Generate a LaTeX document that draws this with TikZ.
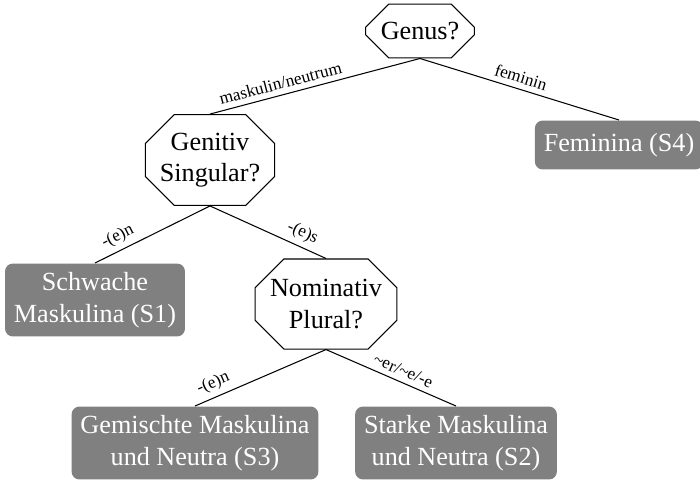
\documentclass[tikz,border=0pt]{standalone}
\usepackage{fontspec}
\setmainfont{Liberation Serif}
\usepackage{xcolor}
\usepackage{tikz}
\usetikzlibrary{shapes.misc}
\definecolor{leafgray}{HTML}{808080}

\begin{document}
\begin{tikzpicture}[
    x=0.382pt, y=-0.382pt,
    question/.style={chamfered rectangle, chamfered rectangle xsep=5.5pt,
        chamfered rectangle ysep=5.5pt, draw=black, line width=0.4pt,
        align=center, inner sep=0pt, minimum width=#1},
    question/.default=41.6pt,
    leaf/.style={rounded corners=3pt, fill=leafgray, text=white,
        align=center, inner sep=3.4pt, minimum height=18.7pt},
    branch/.style={draw=black, line width=0.4pt},
    lbl/.style={font=\fontsize{6.6}{7.5}\selectfont, sloped, above,
        inner sep=2pt},
  ]
  \useasboundingbox (0,0) rectangle (700,483);
  % questions
  \node[question, minimum height=20.6pt] (genus) at (420,31) {Genus?};
  \node[question=49.2pt, minimum height=34.7pt] (genitiv) at (210,160) {Genitiv\\Singular?};
  \node[question=54.2pt, minimum height=34.4pt] (nominativ) at (326,304) {Nominativ\\Plural?};
  % leaves
  \node[leaf] (s4) at (619,145) {Feminina (S4)};
  \node[leaf] (s1) at (95,300) {Schwache\\Maskulina (S1)};
  \node[leaf] (s3) at (195,443) {Gemischte Maskulina\\und Neutra (S3)};
  \node[leaf] (s2) at (456,443) {Starke Maskulina\\und Neutra (S2)};
  % branches
  \draw[branch] (genus.south) -- node[lbl, pos=0.65] {maskulin/neutrum} (genitiv.north);
  \draw[branch] (genus.south) -- node[lbl, pos=0.49] {feminin} (s4.north);
  \draw[branch] (genitiv.south) -- node[lbl, pos=0.75] {-(e)n} (s1.north);
  \draw[branch] (genitiv.south) -- node[lbl, pos=0.75] {-(e)s} (nominativ.north);
  \draw[branch] (nominativ.south) -- node[lbl, pos=0.82] {-(e)n} (s3.north);
  \draw[branch] (nominativ.south) -- node[lbl, pos=0.56] {\~{}er/\~{}e/-e} (s2.north);
\end{tikzpicture}
\end{document}
